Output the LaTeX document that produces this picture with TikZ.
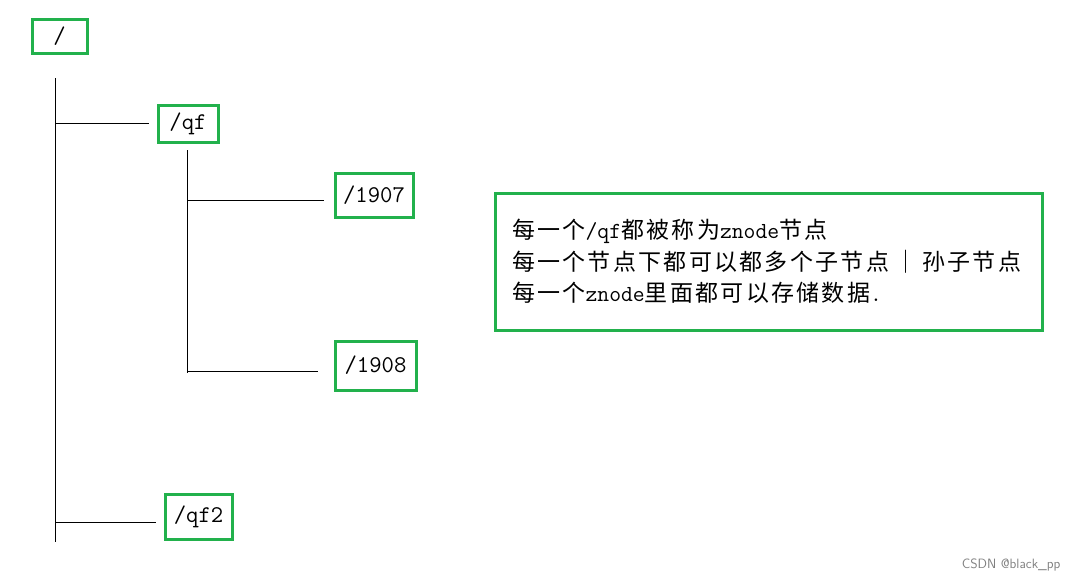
\documentclass[tikz,border=0pt]{standalone}
\usepackage{fontspec}
\usepackage{xcolor}
\usepackage{tikz}
\usetikzlibrary{positioning,calc}
\newfontfamily\cjk[LetterSpace=10]{Noto Sans CJK SC}
\setmonofont{Latin Modern Mono}
\definecolor{boxgreen}{RGB}{34,177,76}
\tikzstyle{znode}= [draw=boxgreen, line width=3pt, inner sep=0pt, font=\ttfamily\fontsize{24}{24}\selectfont]
\tikzstyle{branch}= [line width=1pt, shorten >=8pt]
\newcommand{\zh}[1]{{\cjk\fontsize{23}{31.5}\selectfont #1}}

\begin{document}
\begin{tikzpicture}[x=1pt, y=-1pt]
				\useasboundingbox (0,0) rectangle (1078,582);
				\node[znode, minimum width=55pt, minimum height=34pt] (root) at (59.5, 36) {/};
				\node[znode, minimum width=60pt, minimum height=37pt] (qf) at (188, 123.5) {/qf};
				\node[znode, minimum width=78pt, minimum height=44pt] (p1907) at (374, 195) {/1907};
				\node[znode, minimum width=81pt, minimum height=49pt] (p1908) at (375.5, 365.5) {/1908};
				\node[znode, minimum width=67pt, minimum height=45pt] (qf2) at (198.5, 516.5) {/qf2};
				\coordinate (t0) at (55, 78);
				\coordinate (t1) at (55, 542);
				\coordinate (b1) at (55, 123);
				\coordinate (b2) at (55, 522);
				\coordinate (s0) at (187, 150);
				\coordinate (s1) at (187, 373);
				\coordinate (c1) at (187, 200);
				\coordinate (c2) at (187, 371);
				\draw[line width=1pt] (t0) -- (t1);
				\draw[branch] (b1) -- (b1 -| qf.west);
				\draw[branch] (b2) -- (b2 -| qf2.west);
				\draw[line width=1pt] (s0) -- (s1);
				\draw[branch, shorten >=10pt] (c1) -- (c1 -| p1907.west);
				\draw[branch, shorten >=16pt] (c2) -- (c2 -| p1908.west);
				\node[draw=boxgreen, line width=3pt, minimum width=547pt, minimum height=137pt,
					text width=513pt, align=left, inner xsep=17pt,
					font=\ttfamily\fontsize{23}{31.5}\selectfont] (info) at (768.5, 261.5)
					{\zh{每一个}/qf\zh{都被称为}znode\zh{节点}\\
					\zh{每一个节点下都可以都多个子节点}\hspace{5pt}\zh{｜}\hspace{5pt}\zh{孙子节点}\\
					\zh{每一个}znode\zh{里面都可以存储数据}.};
				\node[anchor=east, text=gray, font=\sffamily\fontsize{13.5}{13.5}\selectfont] (mark) at (1064, 565) {CSDN @black\_pp};
			\end{tikzpicture}
\end{document}
